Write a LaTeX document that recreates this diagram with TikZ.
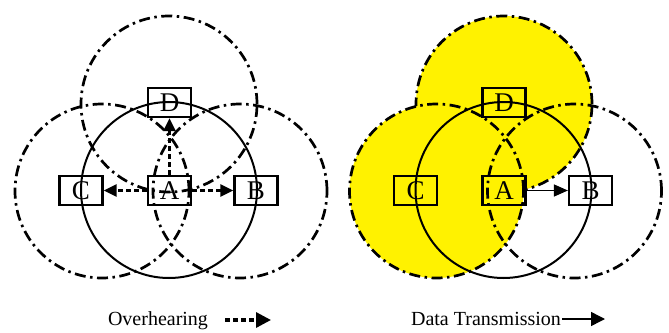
\documentclass[tikz,border=0pt]{standalone}
\usepackage{fontspec}
\setmainfont{Liberation Serif}
\usetikzlibrary{arrows.meta}

\begin{document}
\begin{tikzpicture}
    [x=1pt,y=-1pt,%
      every node/.style={shape=rectangle,draw,line width=2.2pt,minimum width=43pt,
        minimum height=29pt,inner sep=0pt,font=\fontsize{27}{27}\selectfont},%
      reach/.style={line width=2.7pt,dash pattern=on 11pt off 4.5pt on 2.5pt off 4.5pt},%
      own/.style={line width=2pt},%
      hear/.style={line width=2.4pt,dash pattern=on 5pt off 3pt,-{Triangle[length=13pt,width=12pt]}},%
      send/.style={line width=1.5pt,-{Triangle[length=14pt,width=12pt]}},%
      legendtext/.style={draw=none,minimum width=0pt,minimum height=0pt,
        font=\fontsize{20}{20}\selectfont,anchor=base}]
    \useasboundingbox (0,0) rectangle (669,332);
    % overhearing
    \draw[reach] (169,104) circle (88pt);
    \draw[reach] (102,191) circle (87pt);
    \draw[reach] (240,191) circle (87pt);
    \draw[own] (169,190) circle (88pt);
    \node (D) at (169.5,102.5) {D};
    \node (C) at (81,190.5) {C};
    \node (A) at (169.5,190.5) {A};
    \node (B) at (256,190.5) {B};
    \draw[hear] (A) -- (C);
    \draw[hear] (A) -- (B);
    \draw[hear] (A) -- (D);
    % data transmission
    \fill[yellow] (504,104) circle (88pt);
    \draw[reach] (504,104) circle (88pt);
    \filldraw[reach,fill=yellow] (436.5,191) circle (87pt);
    \draw[reach] (574.5,191) circle (87pt);
    \draw[own] (503.5,190) circle (88pt);
    \node (rD) at (504,102.5) {D};
    \node (rC) at (415.5,190.5) {C};
    \node (rA) at (504,190.5) {A};
    \node (rB) at (590.5,190.5) {B};
    \draw[send] (rA) -- (rB);
    % legend
    \node[legendtext] (hearing) at (158,325) {Overhearing};
    \coordinate (h0) at (225,320);
    \coordinate (h1) at (271,320);
    \draw[hear,line width=3.2pt,-{Triangle[length=15pt,width=15pt]}] (h0) -- (h1);
    \node[legendtext] (transmit) at (486,325) {Data Transmission};
    \coordinate (t1) at (605,319);
    \draw[send,-{Triangle[length=14pt,width=14pt]}] (transmit.base east) ++(0,-6) -- (t1);
\end{tikzpicture}
\end{document}
